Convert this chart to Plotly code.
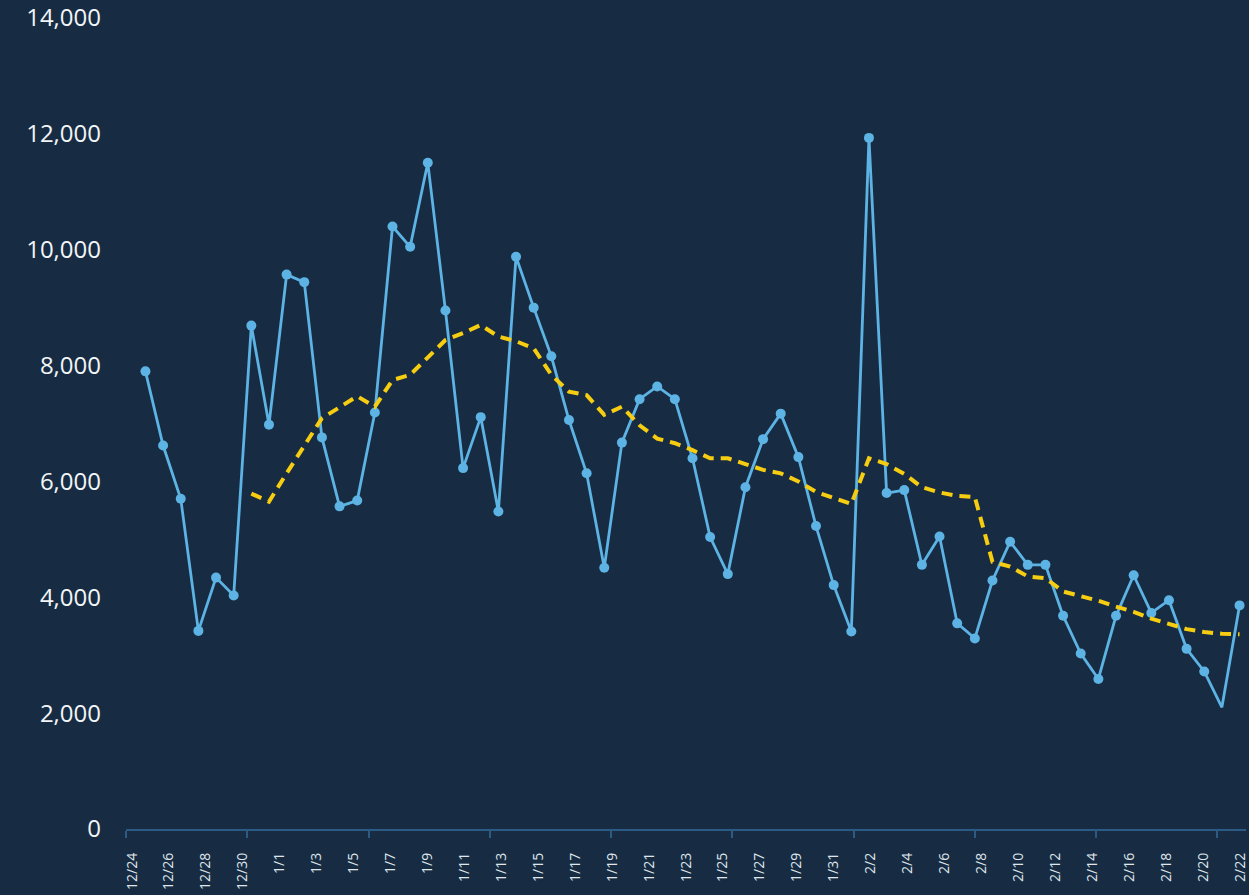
import pandas as pd
import plotly.graph_objects as go

# ---------------- data ----------------
start_date = "2020-12-24"
daily_cases = [7900, 6620, 5700, 3420, 4340, 4030, 8690, 6980, 9570, 9440,
               6760, 5570, 5670, 7190, 10400, 10050, 11500, 8950, 6230, 7110,
               5480, 9880, 9000, 8160, 7060, 6140, 4510, 6670, 7420, 7640,
               7420, 6400, 5040, 4400, 5900, 6730, 7170, 6420, 5230, 4210,
               3410, 11930, 5800, 5850, 4560, 5050, 3550, 3290, 4290, 4960,
               4560, 4560, 3680, 3030, 2590, 3680, 4380, 3730, 3950, 3110,
               2720, 2100, 3860]
avg_offset = 6  # first day with a 7-day average
rolling_avg = [5790, 5650, 6140, 6630, 7090, 7280, 7470, 7290, 7750, 7840,
               8150, 8440, 8560, 8700, 8500, 8420, 8300, 7840, 7550, 7490,
               7150, 7290, 6970, 6740, 6660, 6540, 6400, 6400, 6300, 6200,
               6140, 6000, 5820, 5710, 5610, 6400, 6300, 6130, 5900, 5810,
               5750, 5730, 4610, 4530, 4360, 4330, 4100, 4020, 3940, 3840,
               3750, 3630, 3540, 3450, 3400, 3370, 3360]
no_marker_index = 61
label_first = "2020-12-24"
label_last = "2021-02-22"
y_ticks = [0, 2000, 4000, 6000, 8000, 10000, 12000, 14000]

# ---------------- style ----------------
BG = "#172c43"
BLUE = "#5cb3e4"
YELLOW = "#f7cd12"
AXIS = "#2b5a84"
TEXT = "#f2f5f8"
FONT = "Open Sans"

W, H = 1249, 895
ML, MR, MT, MB = 126, 0, 18, 66
PW = W - ML - MR

dates = pd.date_range(start_date, periods=len(daily_cases), freq="D")
avg_series = [None] * avg_offset + rolling_avg
msizes = [0 if i == no_marker_index else 10 for i in range(len(daily_cases))]

day = pd.Timedelta(days=1)
# data axis geometry
pt_first_px = 19.5
pt_step_px = 17.694
d0 = dates[0]
data_range = [d0 - day * (pt_first_px / pt_step_px),
              d0 + day * ((PW - pt_first_px) / pt_step_px)]
# label axis geometry
lab0 = pd.Timestamp(label_first)
lab_first_px = 6.0
lab_day_px = 18.517
label_range = [lab0 - day * (lab_first_px / lab_day_px),
               lab0 + day * ((PW - lab_first_px) / lab_day_px)]
tick_step_px = 121.6

fig = go.Figure()
fig.add_trace(go.Scatter(
    x=dates, y=daily_cases, mode="lines+markers",
    line=dict(color=BLUE, width=2.8),
    marker=dict(size=msizes, color=BLUE, opacity=1, line=dict(width=0)),
    hoverinfo="skip", showlegend=False, cliponaxis=False,
))
fig.add_trace(go.Scatter(
    x=dates, y=avg_series, mode="lines",
    line=dict(color=YELLOW, width=4, dash="11px,7px"),
    hoverinfo="skip", showlegend=False, connectgaps=False,
))
# invisible traces to activate overlay axes
fig.add_trace(go.Scatter(x=[label_first, label_last], y=[None, None],
                         xaxis="x2", yaxis="y", showlegend=False, hoverinfo="skip"))
fig.add_trace(go.Scatter(x=[0, 1], y=[None, None],
                         xaxis="x3", yaxis="y", showlegend=False, hoverinfo="skip"))

fig.update_layout(
    width=W, height=H,
    margin=dict(l=ML, r=MR, t=MT, b=MB, pad=0),
    paper_bgcolor=BG, plot_bgcolor=BG,
    font=dict(family=FONT, color=TEXT),
    xaxis=dict(domain=[0, 1], range=data_range, visible=False, type="date"),
    xaxis2=dict(
        overlaying="x", anchor="y", side="bottom", type="date",
        range=label_range, tick0=label_first, dtick=2 * 86400000,
        tickformat="%-m/%-d", tickangle=-90, ticks="",
        showgrid=False, zeroline=False, showline=False,
        tickfont=dict(size=14, color="#dfe6ec", family=FONT),
        ticklabelstandoff=20, ticklabeloverflow="allow",
    ),
    xaxis3=dict(
        overlaying="x", anchor="y", side="bottom",
        range=[0, PW / tick_step_px], tick0=0, dtick=1,
        ticks="outside", ticklen=7, tickwidth=2, tickcolor=AXIS,
        showline=True, linecolor=AXIS, linewidth=2,
        showgrid=False, zeroline=False, showticklabels=False,
    ),
    yaxis=dict(
        range=[0, 14000], tickvals=y_ticks, tickformat=",",
        showgrid=False, zeroline=False, showline=False, ticks="",
        tickfont=dict(size=24, color=TEXT, family=FONT),
        ticklabelstandoff=24,
    ),
)

fig.write_html(
    "out.html",
    config={"displayModeBar": False},
    post_script="document.body.style.margin='0';document.body.style.overflow='hidden';",
)
